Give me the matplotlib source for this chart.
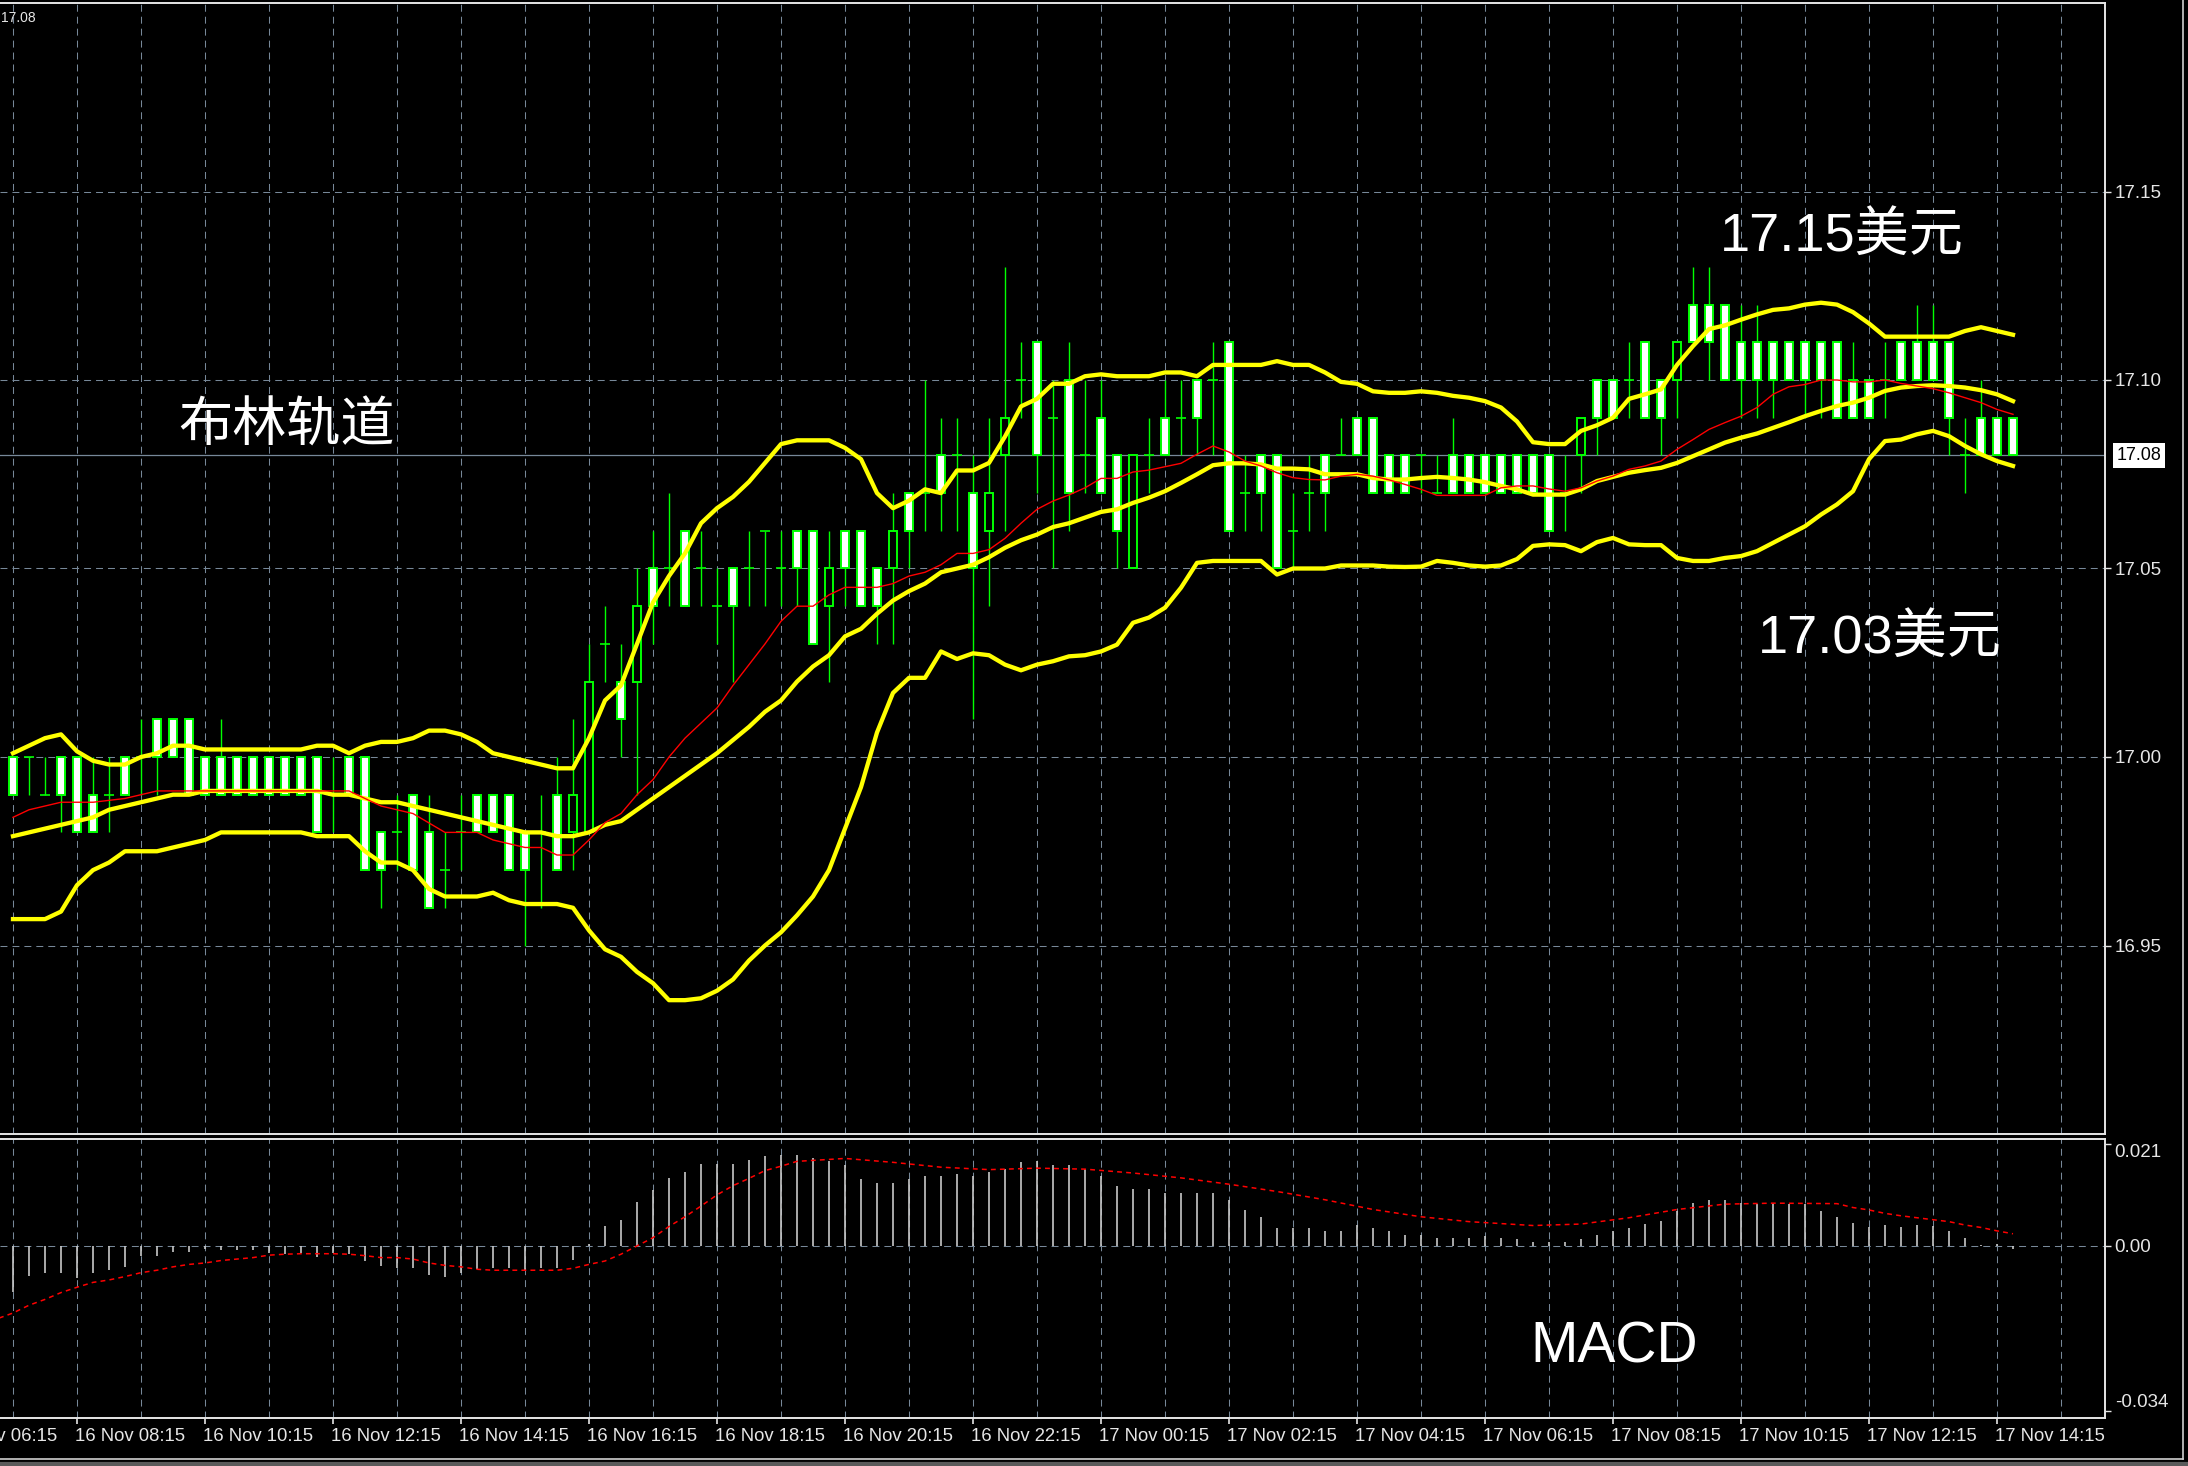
import matplotlib
matplotlib.use("Agg")
import matplotlib.pyplot as plt
from matplotlib import transforms
from matplotlib.lines import Line2D

plt.rcParams['lines.scale_dashes'] = False
plt.rcParams['font.family'] = ['Liberation Sans', 'Noto Sans CJK SC', 'DejaVu Sans']

# 15 min candles, index 0 = 16 Nov 07:15 ... index 125 = 17 Nov 14:30
opens = [17.00, 17.00, 16.99, 17.00, 17.00, 16.99, 16.99, 17.00, 17.00, 17.01,
         17.01, 17.01, 17.00, 17.00, 17.00, 17.00, 17.00, 17.00, 17.00, 17.00,
         16.99, 17.00, 17.00, 16.98, 16.98, 16.99, 16.98, 16.97, 16.98, 16.99,
         16.99, 16.99, 16.98, 16.98, 16.99, 16.98, 16.98, 17.03, 17.02, 17.02,
         17.05, 17.05, 17.06, 17.05, 17.04, 17.05, 17.05, 17.06, 17.05, 17.06,
         17.06, 17.04, 17.06, 17.06, 17.05, 17.05, 17.07, 17.07, 17.08, 17.08,
         17.07, 17.06, 17.08, 17.10, 17.11, 17.09, 17.10, 17.08, 17.09, 17.08,
         17.05, 17.08, 17.09, 17.09, 17.10, 17.10, 17.11, 17.07, 17.08, 17.08,
         17.06, 17.07, 17.08, 17.08, 17.09, 17.09, 17.08, 17.08, 17.08, 17.07,
         17.08, 17.08, 17.08, 17.08, 17.08, 17.08, 17.08, 17.07, 17.08, 17.10,
         17.10, 17.10, 17.11, 17.10, 17.10, 17.12, 17.12, 17.12, 17.11, 17.11,
         17.11, 17.11, 17.11, 17.11, 17.11, 17.10, 17.10, 17.10, 17.11, 17.11,
         17.11, 17.11, 17.08, 17.09, 17.09, 17.09]
highs = [17.00, 17.00, 17.00, 17.00, 17.00, 17.00, 17.00, 17.00, 17.01, 17.01,
         17.01, 17.01, 17.00, 17.01, 17.00, 17.00, 17.00, 17.00, 17.00, 17.00,
         17.00, 17.00, 17.00, 16.98, 16.99, 16.99, 16.99, 16.98, 16.99, 16.99,
         16.99, 16.99, 16.98, 16.99, 17.00, 17.01, 17.03, 17.04, 17.03, 17.05,
         17.06, 17.07, 17.06, 17.06, 17.05, 17.05, 17.06, 17.06, 17.06, 17.06,
         17.06, 17.06, 17.06, 17.06, 17.05, 17.07, 17.07, 17.10, 17.09, 17.09,
         17.08, 17.09, 17.13, 17.11, 17.11, 17.10, 17.11, 17.10, 17.10, 17.08,
         17.08, 17.09, 17.10, 17.10, 17.10, 17.11, 17.11, 17.08, 17.08, 17.08,
         17.07, 17.08, 17.08, 17.09, 17.09, 17.09, 17.08, 17.08, 17.08, 17.08,
         17.09, 17.08, 17.08, 17.08, 17.08, 17.08, 17.08, 17.08, 17.09, 17.10,
         17.10, 17.11, 17.11, 17.10, 17.11, 17.13, 17.13, 17.12, 17.12, 17.12,
         17.11, 17.11, 17.11, 17.11, 17.11, 17.11, 17.10, 17.11, 17.11, 17.12,
         17.12, 17.11, 17.09, 17.10, 17.09, 17.09]
lows = [16.99, 16.99, 16.99, 16.98, 16.98, 16.98, 16.98, 16.99, 16.99, 16.99,
        17.00, 16.99, 16.99, 16.99, 16.99, 16.99, 16.99, 16.99, 16.99, 16.98,
        16.98, 16.99, 16.97, 16.96, 16.97, 16.97, 16.96, 16.96, 16.97, 16.98,
        16.98, 16.97, 16.95, 16.96, 16.97, 16.97, 16.98, 17.02, 17.00, 16.99,
        17.03, 17.04, 17.04, 17.04, 17.03, 17.02, 17.04, 17.04, 17.04, 17.04,
        17.03, 17.02, 17.04, 17.04, 17.03, 17.03, 17.05, 17.06, 17.06, 17.06,
        17.01, 17.04, 17.06, 17.09, 17.07, 17.05, 17.06, 17.07, 17.07, 17.05,
        17.05, 17.07, 17.08, 17.08, 17.08, 17.08, 17.06, 17.06, 17.06, 17.05,
        17.05, 17.06, 17.06, 17.08, 17.08, 17.07, 17.07, 17.07, 17.07, 17.07,
        17.07, 17.07, 17.07, 17.07, 17.07, 17.07, 17.06, 17.06, 17.07, 17.08,
        17.09, 17.09, 17.09, 17.08, 17.09, 17.11, 17.10, 17.10, 17.09, 17.09,
        17.09, 17.10, 17.09, 17.09, 17.09, 17.09, 17.09, 17.09, 17.10, 17.10,
        17.10, 17.08, 17.07, 17.08, 17.08, 17.08]
closes = [16.99, 17.00, 16.99, 16.99, 16.98, 16.98, 16.99, 16.99, 17.00, 17.00,
          17.00, 16.99, 16.99, 16.99, 16.99, 16.99, 16.99, 16.99, 16.99, 16.98,
          16.99, 16.99, 16.97, 16.97, 16.98, 16.97, 16.96, 16.97, 16.98, 16.98,
          16.98, 16.97, 16.97, 16.98, 16.97, 16.99, 17.02, 17.03, 17.01, 17.04,
          17.04, 17.05, 17.04, 17.05, 17.04, 17.04, 17.05, 17.06, 17.05, 17.05,
          17.03, 17.05, 17.05, 17.04, 17.04, 17.06, 17.06, 17.07, 17.07, 17.08,
          17.05, 17.07, 17.09, 17.10, 17.08, 17.09, 17.07, 17.08, 17.07, 17.06,
          17.08, 17.08, 17.08, 17.09, 17.09, 17.10, 17.06, 17.07, 17.07, 17.05,
          17.06, 17.07, 17.07, 17.08, 17.08, 17.07, 17.07, 17.07, 17.08, 17.07,
          17.07, 17.07, 17.07, 17.07, 17.07, 17.07, 17.06, 17.07, 17.09, 17.09,
          17.09, 17.10, 17.09, 17.09, 17.11, 17.11, 17.11, 17.10, 17.10, 17.10,
          17.10, 17.10, 17.10, 17.10, 17.09, 17.09, 17.09, 17.10, 17.10, 17.10,
          17.10, 17.09, 17.08, 17.08, 17.08, 17.08]

# bollinger bands (yellow) and moving average (red)
upper = [17.001, 17.003, 17.005, 17.006, 17.0015, 16.999, 16.998, 16.998, 17.000, 17.001,
         17.003, 17.003, 17.002, 17.002, 17.002, 17.002, 17.002, 17.002, 17.002, 17.003,
         17.003, 17.001, 17.003, 17.004, 17.004, 17.005, 17.007, 17.007, 17.006, 17.004,
         17.001, 17.000, 16.999, 16.998, 16.997, 16.997, 17.005, 17.015, 17.019, 17.030,
         17.041, 17.048, 17.054, 17.062, 17.066, 17.069, 17.073, 17.078, 17.083, 17.084,
         17.084, 17.084, 17.082, 17.079, 17.070, 17.066, 17.068, 17.071, 17.070, 17.076,
         17.076, 17.078, 17.085, 17.093, 17.095, 17.099, 17.099, 17.101, 17.1015, 17.101,
         17.101, 17.101, 17.102, 17.102, 17.101, 17.104, 17.104, 17.104, 17.104, 17.105,
         17.104, 17.104, 17.102, 17.0995, 17.099, 17.097, 17.0966, 17.0966, 17.097, 17.0966,
         17.0958, 17.0953, 17.0944, 17.0927, 17.089, 17.0835, 17.083, 17.083, 17.0865, 17.088,
         17.090, 17.095, 17.0962, 17.0975, 17.104, 17.109, 17.1135, 17.1145, 17.116, 17.1174,
         17.1186, 17.119, 17.120, 17.1205, 17.120, 17.118, 17.115, 17.1115, 17.1115, 17.1115,
         17.1115, 17.1115, 17.113, 17.114, 17.113, 17.112]
middle = [16.979, 16.980, 16.981, 16.982, 16.983, 16.984, 16.986, 16.987, 16.988, 16.989,
          16.990, 16.990, 16.991, 16.991, 16.991, 16.991, 16.991, 16.991, 16.991, 16.991,
          16.990, 16.990, 16.989, 16.988, 16.988, 16.987, 16.986, 16.985, 16.984, 16.983,
          16.982, 16.981, 16.980, 16.980, 16.979, 16.979, 16.980, 16.982, 16.983, 16.986,
          16.989, 16.992, 16.995, 16.998, 17.001, 17.0045, 17.008, 17.012, 17.015, 17.020,
          17.024, 17.027, 17.032, 17.034, 17.038, 17.0415, 17.044, 17.046, 17.049, 17.050,
          17.051, 17.053, 17.0555, 17.0575, 17.059, 17.061, 17.062, 17.0635, 17.065, 17.0657,
          17.0674, 17.0688, 17.0705, 17.0727, 17.075, 17.0774, 17.0779, 17.0779, 17.0776, 17.0765,
          17.0765, 17.0763, 17.075, 17.075, 17.075, 17.074, 17.0736, 17.0736, 17.074, 17.0743,
          17.074, 17.0736, 17.0729, 17.0719, 17.071, 17.0696, 17.0696, 17.0696, 17.071, 17.0732,
          17.0743, 17.0754, 17.0761, 17.0767, 17.078, 17.0798, 17.0816, 17.0834, 17.0847, 17.0858,
          17.0873, 17.0888, 17.0904, 17.0918, 17.0931, 17.094, 17.0953, 17.0971, 17.098, 17.0984,
          17.0986, 17.0984, 17.098, 17.0973, 17.0962, 17.0944]
lower = [16.957, 16.957, 16.957, 16.959, 16.966, 16.970, 16.972, 16.975, 16.975, 16.975,
         16.976, 16.977, 16.978, 16.980, 16.980, 16.980, 16.980, 16.980, 16.980, 16.979,
         16.979, 16.979, 16.975, 16.972, 16.972, 16.970, 16.965, 16.963, 16.963, 16.963,
         16.964, 16.962, 16.961, 16.961, 16.961, 16.960, 16.954, 16.949, 16.947, 16.943,
         16.940, 16.9355, 16.9355, 16.936, 16.938, 16.941, 16.946, 16.950, 16.9535, 16.958,
         16.963, 16.970, 16.981, 16.992, 17.0065, 17.017, 17.021, 17.021, 17.028, 17.026,
         17.0275, 17.027, 17.0245, 17.023, 17.0245, 17.0254, 17.0267, 17.027, 17.028, 17.0298,
         17.0356, 17.037, 17.0396, 17.0449, 17.0515, 17.052, 17.052, 17.052, 17.052, 17.0484,
         17.050, 17.050, 17.050, 17.0508, 17.0508, 17.0508, 17.0505, 17.0504, 17.0505, 17.052,
         17.0515, 17.0508, 17.0505, 17.0508, 17.0525, 17.056, 17.0564, 17.0562, 17.0546, 17.057,
         17.0581, 17.0564, 17.0562, 17.0562, 17.0528, 17.052, 17.052, 17.0528, 17.0533, 17.0546,
         17.0568, 17.059, 17.0612, 17.0643, 17.067, 17.0705, 17.079, 17.0838, 17.0842, 17.0856,
         17.0865, 17.0851, 17.0825, 17.0803, 17.0785, 17.0772]
ma_red = [16.984, 16.986, 16.987, 16.988, 16.988, 16.988, 16.9885, 16.989, 16.990, 16.991,
          16.991, 16.991, 16.991, 16.991, 16.991, 16.991, 16.991, 16.991, 16.991, 16.991,
          16.991, 16.991, 16.989, 16.987, 16.986, 16.985, 16.9825, 16.980, 16.980, 16.980,
          16.978, 16.977, 16.976, 16.976, 16.974, 16.974, 16.978, 16.9826, 16.985, 16.990,
          16.994, 17.000, 17.005, 17.009, 17.013, 17.019, 17.0245, 17.030, 17.036, 17.040,
          17.040, 17.043, 17.045, 17.045, 17.045, 17.046, 17.048, 17.049, 17.051, 17.054,
          17.054, 17.055, 17.058, 17.062, 17.0657, 17.0679, 17.0695, 17.0714, 17.0739, 17.0739,
          17.0756, 17.0761, 17.077, 17.0779, 17.0803, 17.0825, 17.0809, 17.0785, 17.0772, 17.0754,
          17.0741, 17.0736, 17.0735, 17.0745, 17.075, 17.0745, 17.0735, 17.0723, 17.071, 17.0694,
          17.0694, 17.0694, 17.0694, 17.0714, 17.0719, 17.0719, 17.0711, 17.0705, 17.0714, 17.0732,
          17.0745, 17.0763, 17.0772, 17.0785, 17.0816, 17.0842, 17.0869, 17.0887, 17.0904, 17.0927,
          17.0962, 17.0982, 17.0988, 17.100, 17.100, 17.0995, 17.0995, 17.100, 17.0991, 17.0984,
          17.0977, 17.0966, 17.0953, 17.094, 17.0922, 17.0909]

# MACD histogram (one bar per candle) and signal line
macd_hist = [-0.0094, -0.0061, -0.0056, -0.0055, -0.0065, -0.0056, -0.0049, -0.0043, -0.0020, -0.0020,
             -0.0012, -0.0012, -0.0006, -0.0009, -0.0009, -0.0009, -0.0015, -0.0016, -0.0015, -0.0022,
             -0.0015, -0.0016, -0.0030, -0.0041, -0.0046, -0.0046, -0.0060, -0.0064, -0.0055, -0.0047,
             -0.0046, -0.0046, -0.0050, -0.0046, -0.0046, -0.0028, 0.0003, 0.0041, 0.0054, 0.0090,
             0.0115, 0.0139, 0.0153, 0.0169, 0.0169, 0.0169, 0.0177, 0.0185, 0.0187, 0.0187,
             0.0181, 0.0175, 0.0166, 0.0138, 0.0129, 0.0129, 0.0138, 0.0143, 0.0143, 0.0147,
             0.0143, 0.0152, 0.0158, 0.0172, 0.0175, 0.0166, 0.0166, 0.0158, 0.0143, 0.0123,
             0.0117, 0.0117, 0.0109, 0.0109, 0.0109, 0.0109, 0.0095, 0.0074, 0.0060, 0.0037,
             0.0037, 0.0037, 0.0031, 0.0031, 0.0043, 0.0037, 0.0031, 0.0023, 0.0023, 0.0017,
             0.0017, 0.0017, 0.0020, 0.0017, 0.0014, 0.0008, 0.0008, 0.0008, 0.0014, 0.0023,
             0.0031, 0.0037, 0.0046, 0.0051, 0.0071, 0.0089, 0.0095, 0.0095, 0.0089, 0.0086,
             0.0089, 0.0086, 0.0086, 0.0072, 0.0060, 0.0048, 0.0039, 0.0043, 0.0039, 0.0043,
             0.0041, 0.0031, 0.0016, 0.0001, 0.0003, -0.0006]
signal_idx = [-1, 0, 1, 2, 3, 4, 5, 6, 7, 8, 9, 10, 11, 12, 13, 14, 15, 16, 17, 18, 19, 20,
              21, 22, 23, 24, 25, 26, 27, 28, 29, 30, 34, 35, 36, 37, 38, 39, 40, 41, 42, 43,
              44, 45, 46, 47, 48, 49, 52, 55, 58, 61, 64, 67, 70, 73, 76, 79, 82, 85, 88, 91,
              95, 98, 101, 104, 107, 110, 114, 115, 116, 117, 118, 119, 120, 121, 122, 123, 124, 125]
signal_val = [-0.0150, -0.0138, -0.0122, -0.0110, -0.0096, -0.0085, -0.0075, -0.0070, -0.0063, -0.0055,
              -0.0050, -0.0043, -0.0038, -0.0035, -0.0030, -0.0027, -0.0024, -0.0019, -0.0017, -0.0016,
              -0.0016, -0.0016, -0.0017, -0.0020, -0.0024, -0.0024, -0.0027, -0.0035, -0.0040, -0.0043,
              -0.0048, -0.0050, -0.0050, -0.0046, -0.0038, -0.0031, -0.0017, 0.0000, 0.0017, 0.0040,
              0.0060, 0.0082, 0.0105, 0.0124, 0.0139, 0.0155, 0.0164, 0.0174, 0.0180, 0.0172,
              0.0162, 0.0157, 0.0160, 0.0158, 0.0150, 0.0140, 0.0127, 0.0112, 0.0095, 0.0075,
              0.0060, 0.0050, 0.0042, 0.0045, 0.0058, 0.0075, 0.0086, 0.0088, 0.0087, 0.0079,
              0.0074, 0.0067, 0.0062, 0.0058, 0.0054, 0.0050, 0.0043, 0.0038, 0.0031, 0.0025]

price_ticks = [16.95, 17.00, 17.05, 17.10, 17.15]
macd_ticks = [0.021, 0.0, -0.034]
macd_tick_labels = ['0.021', '0.00', '-0.034']
last_price = 17.08
time_idx = [-4, 4, 12, 20, 28, 36, 44, 52, 60, 68, 76, 84, 92, 100, 108, 116, 124]
time_labels = ['16 Nov 06:15', '16 Nov 08:15', '16 Nov 10:15', '16 Nov 12:15', '16 Nov 14:15',
               '16 Nov 16:15', '16 Nov 18:15', '16 Nov 20:15', '16 Nov 22:15', '17 Nov 00:15',
               '17 Nov 02:15', '17 Nov 04:15', '17 Nov 06:15', '17 Nov 08:15', '17 Nov 10:15',
               '17 Nov 12:15', '17 Nov 14:15']

GREEN = '#00ff00'
YELLOW = '#ffff00'
GRID = '#778899'
FRAME = '#e6e6e6'
W, H = 2188, 1466

fig = plt.figure(figsize=(W / 100, H / 100), dpi=100)
fig.patch.set_facecolor('black')


def rect(x0, y0, x1, y1):
    # pixel box (top-left origin) -> figure fraction
    return [x0 / W, 1 - y1 / H, (x1 - x0) / W, (y1 - y0) / H]


ax = fig.add_axes(rect(0, 3, 2105, 1134))
am = fig.add_axes(rect(0, 1139, 2105, 1418))
xlim = (-13 / 16, (2105 - 13) / 16)

for a in (ax, am):
    a.set_facecolor('black')
    a.set_xlim(*xlim)
    for k in range(0, 132, 4):
        a.axvline(k, color=GRID, lw=0.75, dashes=(5, 3.6), zorder=0)
    a.spines['left'].set_visible(False)
    for s in ('top', 'right', 'bottom'):
        a.spines[s].set_color(FRAME)
        a.spines[s].set_linewidth(1.4)
    a.yaxis.tick_right()
    a.tick_params(axis='y', colors=FRAME, length=4, width=1, labelsize=13.5, pad=3)

# price panel
ax.set_ylim(16.90, 17.20)
for p in price_ticks:
    ax.axhline(p, color=GRID, lw=0.75, dashes=(5, 3.6), zorder=0)
ax.axhline(last_price, color=GRID, lw=0.9, zorder=1)
ax.set_yticks(price_ticks)
ax.set_yticklabels(['%.2f' % p for p in price_ticks])
ax.set_xticks([])

n = len(opens)
xs = list(range(n))
ax.vlines(xs, lows, highs, color=GREEN, lw=1.0, zorder=2)
body_x, body_h, body_b, body_c = [], [], [], []
for i in xs:
    o, c = opens[i], closes[i]
    if o == c:
        ax.hlines(o, i - 0.3, i + 0.3, color=GREEN, lw=1.2, zorder=3)
    else:
        body_x.append(i)
        body_h.append(abs(c - o))
        body_b.append(min(o, c))
        body_c.append('white' if c < o else 'black')
ax.bar(body_x, body_h, bottom=body_b, width=0.52, color=body_c,
       edgecolor=GREEN, linewidth=1.4, zorder=3)

for band in (upper, middle, lower):
    ax.plot(xs, band, color=YELLOW, lw=3.1, zorder=4, solid_joinstyle='round')
ax.plot(xs, ma_red, color='#ff0000', lw=1.0, zorder=5)

# current price box on the scale
bt = transforms.blended_transform_factory(ax.transAxes, ax.transData)
ax.text(1.0055, last_price, '%.2f' % last_price, transform=bt, ha='left', va='center',
        fontsize=13, color='black',
        bbox=dict(boxstyle='square,pad=0.2', facecolor='white', edgecolor='none'))

# annotations
ax.text(17.1, 17.0873, '布林轨道', color='white', fontsize=39, ha='center', va='center')
ax.text(114.3, 17.1379, '17.15美元', color='white', fontsize=39, ha='center', va='center')
ax.text(116.7, 17.0313, '17.03美元', color='white', fontsize=39, ha='center', va='center')

# MACD panel
am.set_ylim(-0.0354, 0.0220)
am.axhline(0, color=GRID, lw=0.75, dashes=(5, 3.6), zorder=0)
am.vlines(xs, 0, macd_hist, color='#c8c8c8', lw=1.2, zorder=2)
am.plot(signal_idx, signal_val, color='#ff0000', lw=1.1, dashes=(3.5, 3), zorder=3)
am.set_yticks(macd_ticks)
labs = am.set_yticklabels(macd_tick_labels)
labs[0].set_va('top')
labs[2].set_va('bottom')
am.text(100.06, -0.0208, 'MACD', color='white', fontsize=41, ha='center', va='center')

am.set_xticks([t for t in time_idx if t >= 0])
am.set_xticklabels([])
am.tick_params(axis='x', colors=FRAME, length=4, width=1.2, direction='out')
tt = transforms.blended_transform_factory(am.transData, am.transAxes)
for t, lab in zip(time_idx, time_labels):
    am.text(t - 0.1, -0.068, lab, transform=tt, ha='left', va='center', fontsize=13.3,
            color=FRAME, clip_on=False)

fig.text(1 / W, 1 - 18 / H, '17.08', color=FRAME, fontsize=10, ha='left', va='center')

# terminal window frame at right and bottom
fig.add_artist(Line2D([2183 / W, 2183 / W], [1 - 1459 / H, 1], color='#cfcfcf', lw=1.2))
fig.add_artist(Line2D([0, 2183 / W], [1 - 1459 / H, 1 - 1459 / H], color='#cfcfcf', lw=1.2))
fig.add_artist(Line2D([0, 1], [1 - 1464 / H, 1 - 1464 / H], color='#5a5a5a', lw=3))

fig.savefig('out.png', dpi=100, facecolor='black')
